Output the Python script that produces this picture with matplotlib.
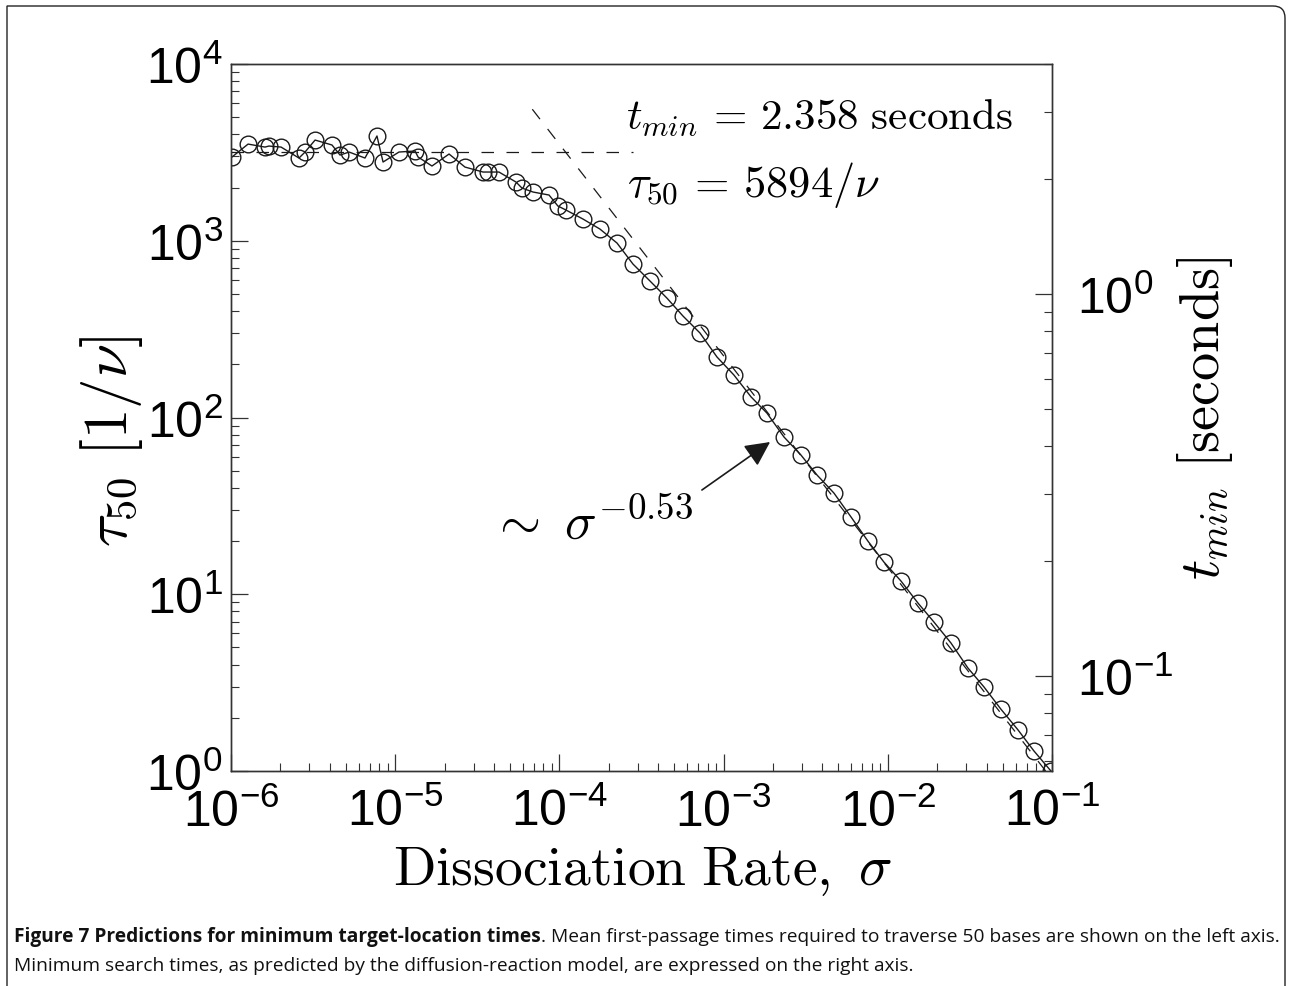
import numpy as np
import matplotlib
matplotlib.use('Agg')
import matplotlib.pyplot as plt
from matplotlib.ticker import LogLocator, NullFormatter
from matplotlib.path import Path
from matplotlib.patches import PathPatch

plt.rcParams['font.family'] = ['Liberation Sans', 'DejaVu Sans']
plt.rcParams['mathtext.fontset'] = 'cm'

# dissociation rate sigma and tau_50 (units of 1/nu)
sigma = 10 ** np.array([
    -5.994, -5.896, -5.793, -5.769, -5.695, -5.586, -5.549, -5.488, -5.385, -5.336,
    -5.281, -5.184, -5.111, -5.074, -4.977, -4.879, -4.861, -4.776, -4.672, -4.575,
    -4.465, -4.435, -4.368, -4.264, -4.228, -4.161, -4.063, -4.009, -3.960, -3.856,
    -3.753, -3.649, -3.552, -3.448, -3.345, -3.247, -3.144, -3.040, -2.937, -2.833,
    -2.736, -2.632, -2.529, -2.431, -2.328, -2.224, -2.121, -2.023, -1.920, -1.816,
    -1.719, -1.615, -1.512, -1.414, -1.311, -1.207, -1.110, -1.006])
tau50 = np.array([
    2979, 3525, 3390, 3436, 3390, 2939, 3178, 3715, 3483, 3055,
    3178, 2939, 3917, 2790, 3178, 3221, 2979, 2649, 3097, 2613,
    2449, 2449, 2449, 2149, 1988, 1888, 1815, 1573, 1493, 1327,
    1165, 971, 739, 592, 474, 375, 301, 220, 174, 131,
    106, 77.6, 61.4, 47.3, 37.4, 27.4, 20.0, 15.2, 11.9, 8.92,
    6.97, 5.30, 3.83, 2.99, 2.24, 1.71, 1.30, 1.0])

# asymptotes
tmin = 2.358              # seconds, plateau
plateau_sigma = [1e-6, 2.8e-4]
power_sigma = [6.84e-5, 1e-1]
power_tau = [5550, 0.9]

# right axis range (seconds)
tmin_lim = (0.0564, 4.0)

fig = plt.figure(figsize=(12.92, 9.87), dpi=100)
ax = fig.add_axes([0.1788, 0.2178, 0.8142 - 0.1788, 0.9341 - 0.2178])
ax2 = ax.twinx()

ax.plot(sigma, tau50, '-', color='#1a1a1a', lw=1.0, marker='o', ms=12,
        mfc='none', mec='#1a1a1a', mew=1.0, zorder=3)
ax.plot(power_sigma, power_tau, color='#1a1a1a', lw=0.9, dashes=(10, 10))
ax2.plot(plateau_sigma, [tmin, tmin], color='#1a1a1a', lw=0.9, dashes=(10, 10))

ax.set_xscale('log')
ax.set_yscale('log')
ax.set_xlim(1e-6, 1e-1)
ax.set_ylim(1, 1e4)
ax2.set_yscale('log')
ax2.set_ylim(*tmin_lim)

for a in (ax, ax2):
    for s in a.spines.values():
        s.set_linewidth(1.0)
        s.set_color('#333333')

ax.xaxis.set_minor_locator(LogLocator(subs=np.arange(2, 10)))
ax.yaxis.set_minor_locator(LogLocator(subs=np.arange(2, 10)))
ax2.yaxis.set_minor_locator(LogLocator(subs=np.arange(2, 10)))
ax2.yaxis.set_minor_formatter(NullFormatter())

ax.tick_params(which='both', direction='in', top=False, right=False, color='#333333')
ax.tick_params(which='major', length=12, width=0.9, labelsize=36, pad=6)
ax.tick_params(which='minor', length=6, width=0.8)
ax.tick_params(axis='x', pad=12)
ax2.tick_params(which='both', direction='in', color='#333333')
ax2.tick_params(which='major', length=12, width=0.9, labelsize=36, pad=18)
ax2.tick_params(which='minor', length=6, width=0.8)

fig.text(0.4969, 0.117, r'$\mathrm{Dissociation\ Rate,}\ \sigma$', fontsize=40,
         ha='center', va='center')
fig.text(0.086, 0.553, r'$\tau_{50}\ [1/\nu]$', fontsize=44, rotation=90,
         ha='center', va='center')
fig.text(0.933, 0.576, r'$t_{min}\ [\mathrm{seconds}]$', fontsize=40.5, rotation=90,
         ha='center', va='center')

ax.text(0.481, 0.925, r'$t_{min}\,=\,2.358\ \mathrm{seconds}$', fontsize=31,
        transform=ax.transAxes, ha='left', va='center')
ax.text(0.482, 0.830, r'$\tau_{50}\,=\,5894/\nu$', fontsize=32,
        transform=ax.transAxes, ha='left', va='center')
ax.text(0.3155, 0.330, r'$\sim\ \sigma^{-0.53}$', fontsize=38,
        transform=ax.transAxes, ha='left', va='baseline')
ax.annotate('', xy=(1.92e-3, 72.7), xytext=(7.38e-4, 38.9),
            arrowprops=dict(arrowstyle='-|>', color='#1a1a1a', lw=1.2,
                            mutation_scale=38, shrinkA=0, shrinkB=0))

# caption
renderer = fig.canvas.get_renderer()
t1 = fig.text(0.011, 0.0456, 'Figure 7 Predictions for minimum target-location times',
              fontsize=13.8, fontweight='bold', family='Open Sans', va='baseline', color='#111111')
bb = t1.get_window_extent(renderer)
fig.text(bb.x1 / fig.bbox.width, 0.0456,
         '. Mean first-passage times required to traverse 50 bases are shown on the left axis.',
         fontsize=13.8, family='Open Sans', va='baseline', color='#111111')
fig.text(0.011, 0.0165,
         'Minimum search times, as predicted by the diffusion-reaction model, are expressed on the right axis.',
         fontsize=13.8, family='Open Sans', va='baseline', color='#111111')

# frame around the figure, rounded at top right
x0, x1 = 7 / 1292, 1285 / 1292
y1 = 1 - 7 / 987
rx, ry = 12 / 1292, 12 / 987
verts = [(x0, 0), (x0, y1), (x1 - rx, y1), (x1, y1), (x1, y1 - ry), (x1, 0)]
codes = [Path.MOVETO, Path.LINETO, Path.LINETO, Path.CURVE3, Path.CURVE3, Path.LINETO]
fig.add_artist(PathPatch(Path(verts, codes), fill=False, lw=1.0, ec='#222222',
                         transform=fig.transFigure))

fig.savefig('out.png', dpi=100)
